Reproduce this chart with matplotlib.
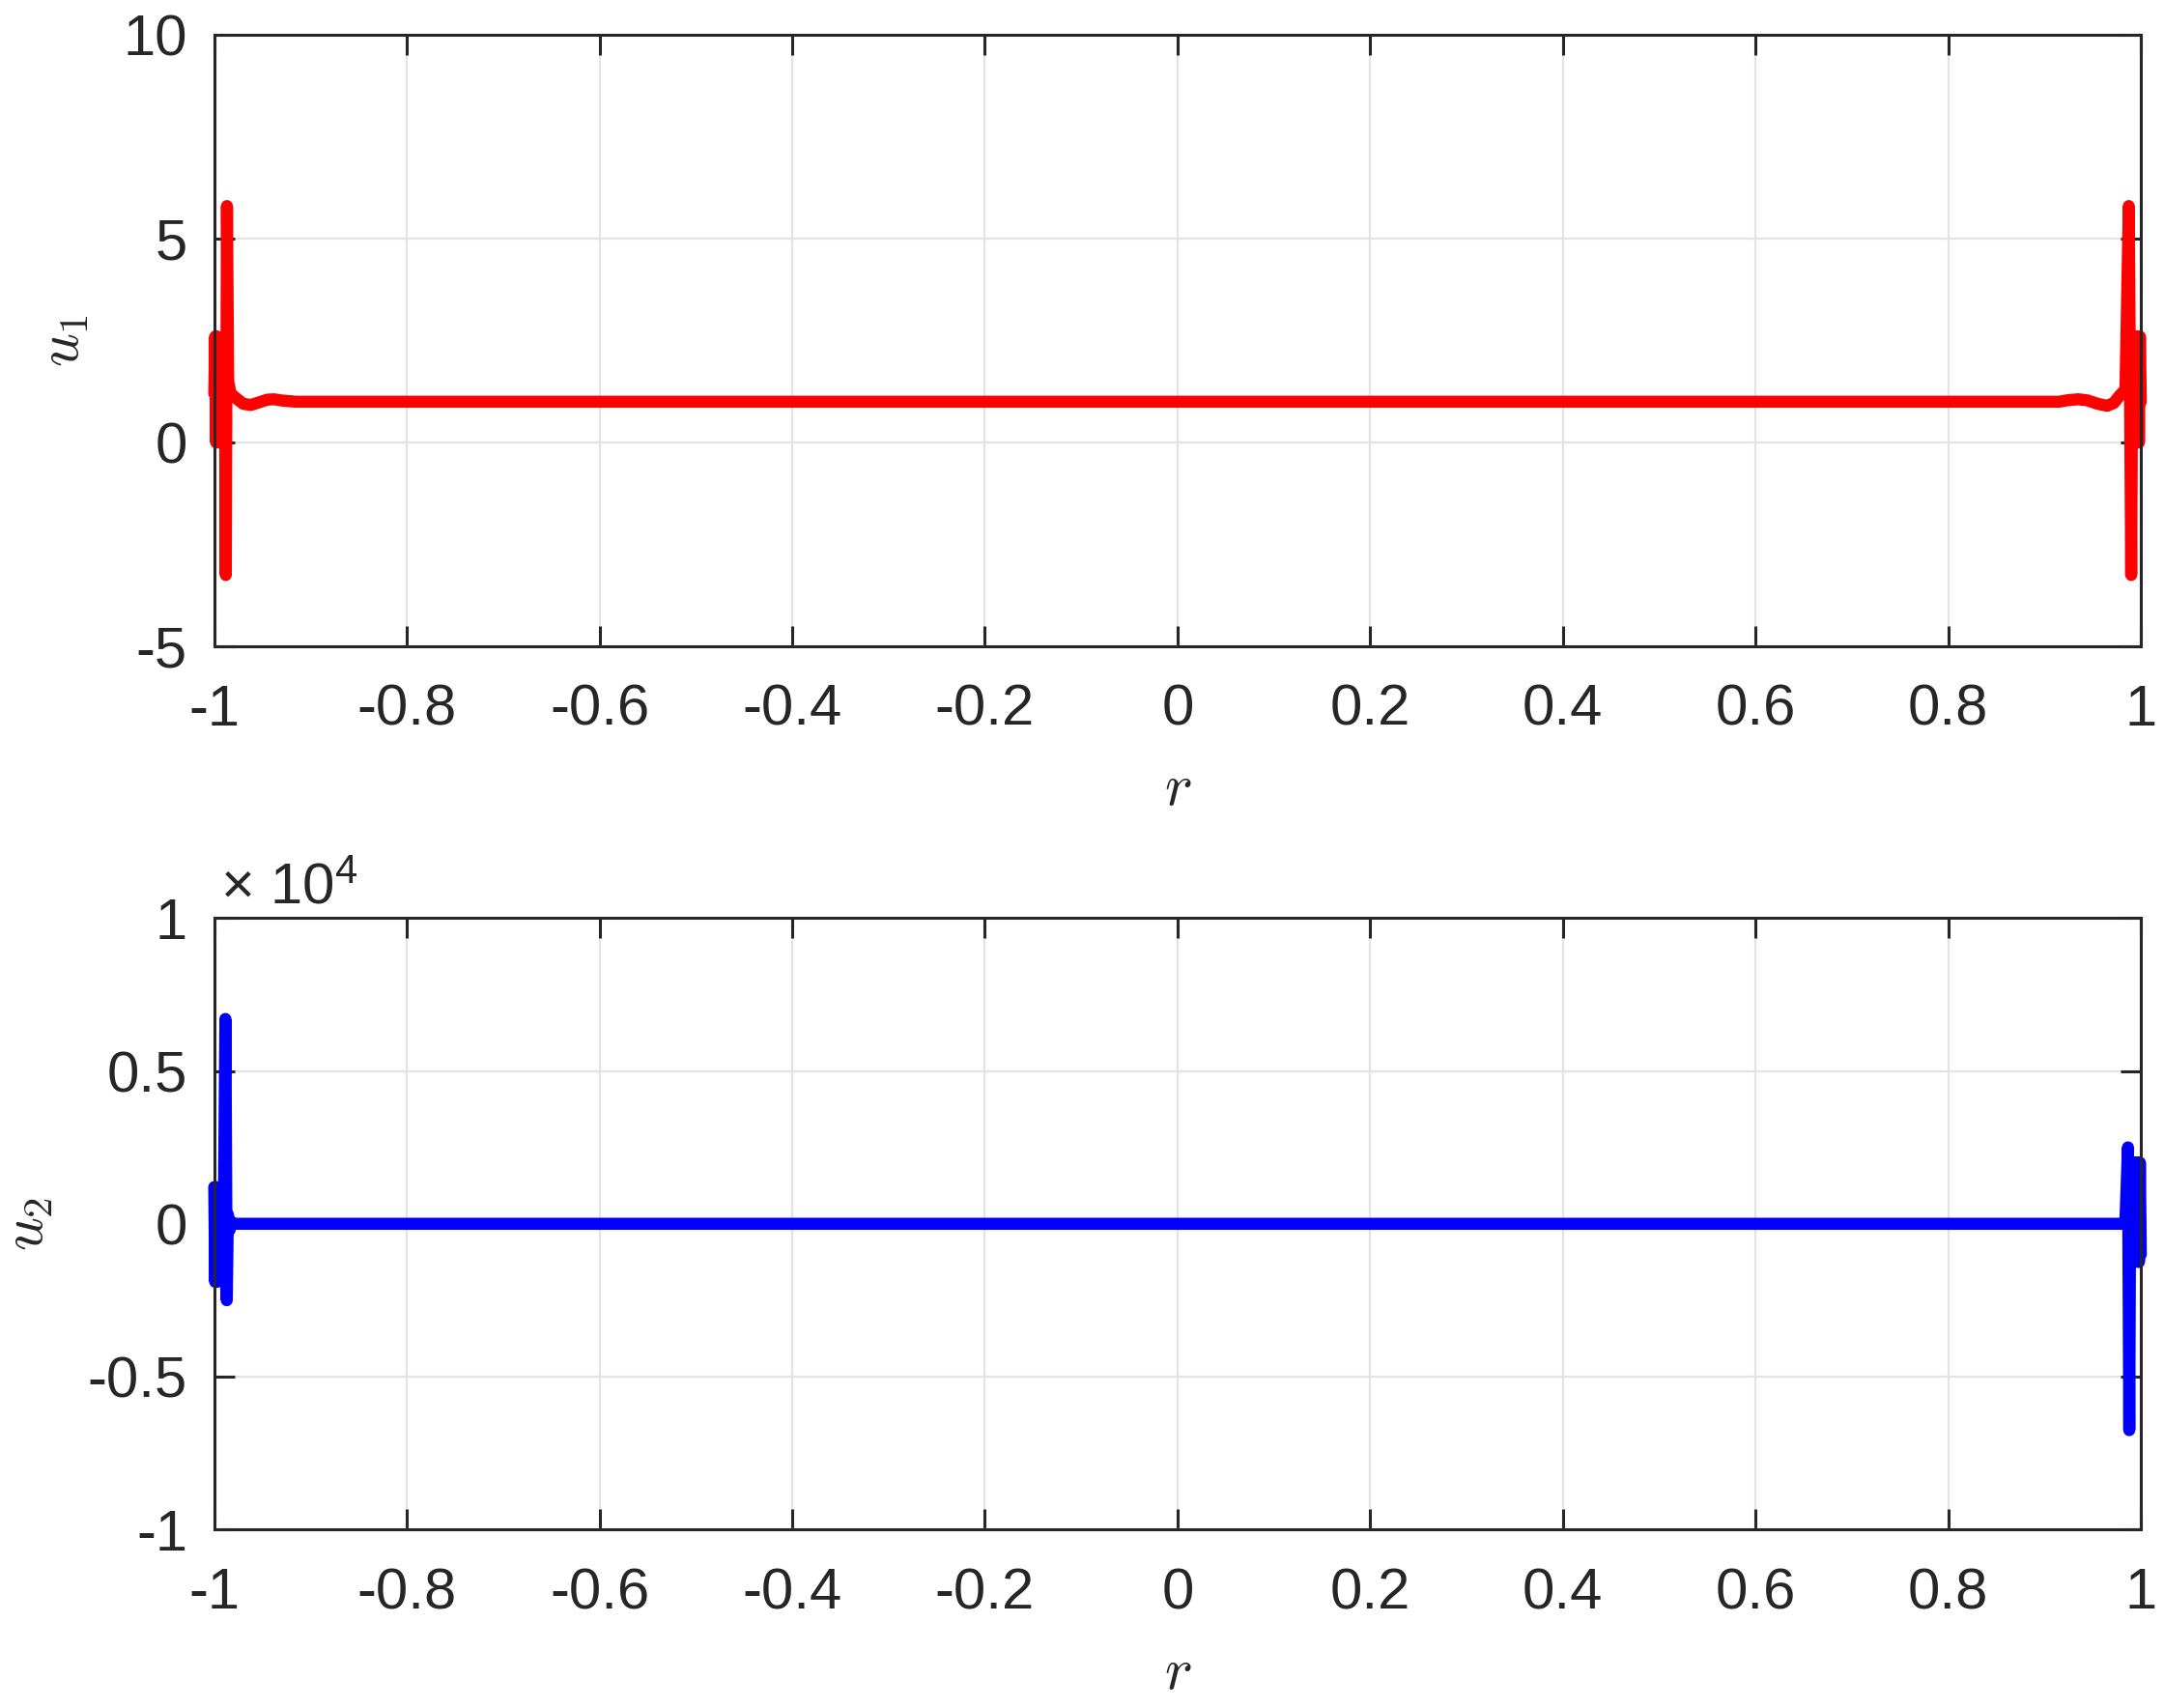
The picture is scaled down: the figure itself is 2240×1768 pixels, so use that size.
import matplotlib
matplotlib.use("Agg")
import matplotlib.pyplot as plt
import numpy as np
from matplotlib.ticker import FuncFormatter

plt.rcParams['font.family'] = ['Liberation Sans', 'DejaVu Sans']
plt.rcParams['mathtext.fontset'] = 'cm'
plt.rcParams['axes.unicode_minus'] = False

# u1 samples (edges are where all the action is, middle is flat at 1)
r1 = [-1.0000, -0.9990, -0.9980, -0.9970, -0.9960, -0.9950, -0.9940, -0.9930,
      -0.9920, -0.9910, -0.9900, -0.9890, -0.9880, -0.9868, -0.9855, -0.9830,
      -0.9780, -0.9700, -0.9620, -0.9540, -0.9450, -0.9380, -0.9300, -0.9150,
      -0.5, 0.0, 0.5,
      0.9150, 0.9250, 0.9350, 0.9450, 0.9550, 0.9650, 0.9720, 0.9780,
      0.9840, 0.9875, 0.9900, 0.9910, 0.9920, 0.9930, 0.9940, 0.9950,
      0.9960, 0.9970, 0.9980, 0.9990, 1.0000]
u1 = [1.2, 2.6, 0.0, 2.6, 0.0, 2.55, 0.05, 2.5,
      0.1, 2.4, 0.2, 2.2, -3.25, 5.8, 1.5, 1.2,
      1.1, 0.95, 0.92, 0.98, 1.05, 1.06, 1.03, 1.0,
      1.0, 1.0, 1.0,
      1.0, 1.04, 1.06, 1.03, 0.95, 0.90, 0.97, 1.15,
      1.3, 5.8, -3.25, 2.3, 0.1, 2.5, 0.05, 2.6,
      0.0, 2.6, 0.0, 2.6, 1.0]

# u2 samples, raw values (axis shows them in units of 1e4)
r2 = [-1.0000, -0.9990, -0.9980, -0.9970, -0.9960, -0.9950, -0.9940, -0.9930,
      -0.9920, -0.9910, -0.9900, -0.9884, -0.9870, -0.9858, -0.9840, -0.9820,
      -0.9800, -0.5, 0.0, 0.5, 0.9800, 0.9840, 0.9866, 0.9880,
      0.9890, 0.9900, 0.9910, 0.9920, 0.9930, 0.9940, 0.9950, 0.9960,
      0.9970, 0.9980, 0.9990, 1.0000]
u2 = [1200, -1900, 1200, -1900, 1100, -1800, 1000, -1700,
      800, -1500, 600, 6700, -2500, 300, -200, 50,
      0, 0, 0, 0, 0, 100, 2500, -6750,
      2000, -1200, 2000, -1200, 2000, -1250, 2000, -1200,
      2000, -1250, 2000, -1000]
u2_exp = 4

xticks = np.arange(-1, 1.01, 0.2)
u1_ticks = [-5, 0, 5, 10]
u2_ticks = [-1e4, -5e3, 0, 5e3, 1e4]

edge = '#262626'
fig = plt.figure(figsize=(11.2, 8.84), dpi=200)
ax1 = fig.add_axes([0.099, 0.6216, 0.8903, 0.358])
ax2 = fig.add_axes([0.099, 0.1045, 0.8903, 0.358])

ax1.plot(r1, u1, color='#ff0000', lw=4.5, clip_on=False,
         solid_joinstyle='round', solid_capstyle='round')
ax2.plot(r2, u2, color='#0000ff', lw=4.5, clip_on=False,
         solid_joinstyle='round', solid_capstyle='round')

for ax in (ax1, ax2):
    ax.set_xlim(-1, 1)
    ax.set_xticks(xticks)
    ax.xaxis.set_major_formatter(FuncFormatter(lambda v, p: '%g' % (round(v, 2) + 0.0)))
    ax.grid(True, color='#e3e3e3', lw=0.8)
    ax.set_axisbelow(True)
    for s in ax.spines.values():
        s.set_color(edge)
        s.set_linewidth(1.1)
    ax.tick_params(direction='in', length=7.5, width=1.1, color=edge,
                   labelcolor=edge, labelsize=21.5, top=True, right=True)
    ax.tick_params(axis='x', pad=14)
    ax.tick_params(axis='y', pad=10)
    ax.set_xlabel('$r$', fontsize=22, labelpad=9.5, color=edge)

ax1.set_ylim(-5, 10)
ax1.set_yticks(u1_ticks)
ax1.set_ylabel('$u_1$', fontsize=22, labelpad=12, color=edge)

ax2.set_ylim(-10**u2_exp, 10**u2_exp)
ax2.set_yticks(u2_ticks)
ax2.yaxis.set_major_formatter(FuncFormatter(lambda v, p: '%g' % (v / 10**u2_exp + 0.0)))
ax2.set_ylabel('$u_2$', fontsize=22, labelpad=12, color=edge)
ax2.text(0.003, 1.022, '× $\\mathdefault{10^{%d}}$' % u2_exp, transform=ax2.transAxes,
         ha='left', va='baseline', fontsize=21.5, color=edge)

fig.savefig('out.png', dpi=200, facecolor='white')
